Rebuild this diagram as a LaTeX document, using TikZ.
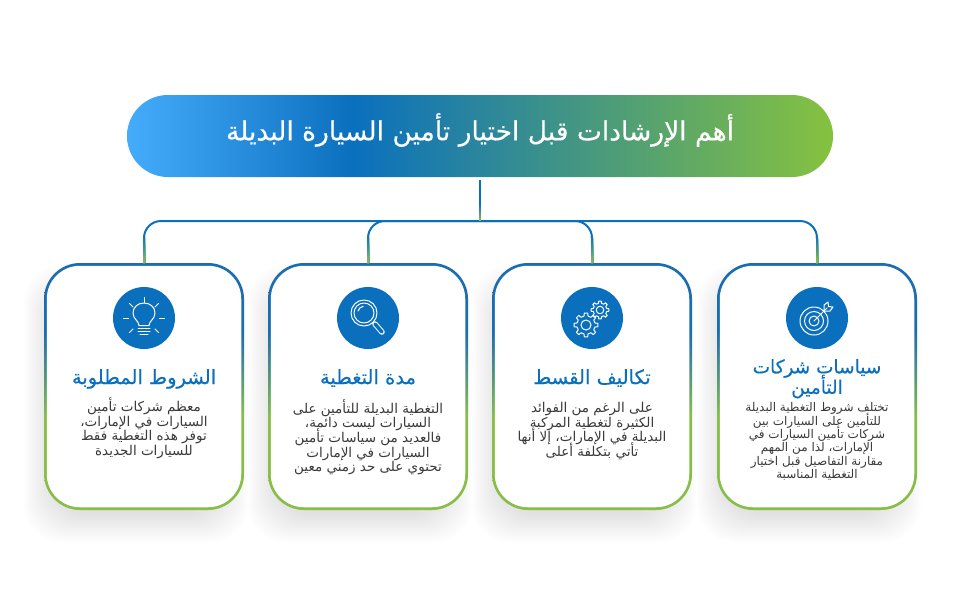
\documentclass[tikz,border=0pt]{standalone}
\usepackage{fontspec}
\newfontfamily\arabicfont[Script=Arabic]{DejaVu Sans}
\newfontfamily\arabichead[Script=Arabic,FakeBold=0.35]{DejaVu Sans}
\TeXXeTstate=1
\normallineskiplimit=-50pt
\lineskiplimit=-50pt
\usetikzlibrary{positioning, calc, backgrounds}

\definecolor{skyblue}{HTML}{45ACFC}
\definecolor{barblue}{HTML}{0A70BE}
\definecolor{bargreen}{HTML}{86C23F}
\definecolor{cardblue}{HTML}{1B6DB3}
\definecolor{cardgreen}{HTML}{86BE48}
\definecolor{bodygrey}{HTML}{3A3A3A}

\pgfdeclarehorizontalshading{titlefill}{100bp}{color(0bp)=(skyblue); color(25bp)=(skyblue); color(41bp)=(barblue); color(75bp)=(bargreen); color(100bp)=(bargreen)}
\pgfdeclareverticalshading{cardfill}{100bp}{color(0bp)=(cardgreen); color(25bp)=(cardgreen); color(44bp)=(cardgreen); color(61bp)=(cardblue); color(75bp)=(cardblue); color(100bp)=(cardblue)}

\newcommand{\arl}[1]{\beginR #1\endR}
\newcommand{\gearicon}[3]{
    \draw[shift={(#1,#2)}] (-13:#3*0.76) \foreach \a in {0,45,...,315} {
        -- (\a-13:#3*0.76) -- (\a-8:#3) -- (\a+8:#3) -- (\a+13:#3*0.76)
    } -- cycle;
    \draw[shift={(#1,#2)}] (0,0) circle (#3*0.42);
}

\tikzset{
    titlebox/.style={shading=titlefill, minimum width=706pt, minimum height=82pt, rounded corners=41pt, inner sep=0pt, outer sep=0pt},
    titletext/.style={text=white, inner sep=0pt, font=\arabichead\fontsize{26.5}{30}\selectfont},
    cardbox/.style={shading=cardfill, minimum width=200pt, minimum height=247pt, rounded corners=36pt, inner sep=0pt, outer sep=0pt},
    cardpanel/.style={fill=white, minimum width=194.5pt, minimum height=241.5pt, rounded corners=33.3pt, inner sep=0pt, outer sep=0pt},
    iconball/.style={circle, fill=barblue, minimum size=62pt, inner sep=0pt, outer sep=0pt},
    cardhead/.style={text=barblue, align=center, inner sep=0pt, font=\arabichead\fontsize{19.5}{19}\selectfont},
    smallhead/.style={text=barblue, align=center, inner sep=0pt, font=\arabichead\fontsize{18.5}{20.5}\selectfont},
    cardbody/.style={text=bodygrey, align=center, inner sep=0pt, font=\arabicfont\fontsize{13.5}{14.7}\selectfont},
    smallbody/.style={text=bodygrey, align=center, inner sep=0pt, font=\arabicfont\fontsize{12}{13.4}\selectfont},
    iconline/.style={draw=white, line width=1pt, line cap=round, line join=round},
    busline/.style={line width=2pt, rounded corners=17pt}
}

\begin{document}
\begin{tikzpicture}[x=1pt, y=1pt, node distance=24pt]
    \useasboundingbox (0,0) rectangle (960,-600);

    \node[titlebox] (Title) at (480,-136) {};
    \node[titletext] (Title Text) at (480,-130) {\arl{أهم الإرشادات قبل اختيار تأمين السيارة البديلة}};

    \node[cardbox] (Card 0) at (144,-386.5) {};
    \node[cardbox, right=24pt of Card 0] (Card 1) {};
    \node[cardbox, right=24pt of Card 1] (Card 2) {};
    \node[cardbox, right=25pt of Card 2] (Card 3) {};
    \coordinate[below=44pt of Title] (Hub);

    \foreach \i in {0,1,2,3} {
        \node[cardpanel] at (Card \i) {};
        \node[iconball, below=24pt of Card \i.north] (Icon \i) {};
    }

    % soft shadow under the cards
    \begin{scope}[on background layer]
        \foreach \i in {0,1,2,3} {
            \foreach \s in {-18,-16,...,18} {
                \fill[black, opacity=0.007, rounded corners=38pt]
                    ($(Card \i.south west)+(-2-\s,-14-\s)$) rectangle ($(Card \i.north east)+(-14+\s,-20+\s)$);
            }
        }
    \end{scope}

    % connectors, painted band by band from blue to green
    \draw[line width=2pt, barblue, shorten <=3pt] (Title.south) -- (Hub);
    \foreach \i in {0,1,2,3} {
        \draw[busline, barblue] (Hub) -| (Card \i.north);
    }
    \foreach \k in {0,1,...,14} {
        \pgfmathtruncatemacro{\mixval}{100-\k*100/14}
        \begin{scope}
            \clip (0,-205-\k*1.1) rectangle (960,-600);
            \draw[line width=2pt, color=barblue!\mixval!bargreen, shorten <=3pt] (Title.south) -- (Hub);
        \end{scope}
        \begin{scope}
            \clip (0,-236-\k*1.9) rectangle (960,-600);
            \foreach \i in {0,1,2,3} {
                \draw[busline, color=barblue!\mixval!bargreen] (Hub) -| (Card \i.north);
            }
        \end{scope}
    }

    \node[cardhead, below=20pt of Icon 0] (Head 0) {\arl{الشروط المطلوبة}};
    \node[cardhead, below=20pt of Icon 1] (Head 1) {\arl{مدة التغطية}};
    \node[cardhead, below=20pt of Icon 2] (Head 2) {\arl{تكاليف القسط}};
    \node[smallhead, below=10pt of Icon 3] (Head 3) {\arl{سياسات شركات}\\\arl{التأمين}};

    \node[cardbody, below=8.5pt of Head 0] (Text 0) {\arl{معظم شركات تأمين}\\\arl{السيارات في الإمارات،}\\\arl{توفر هذه التغطية فقط}\\\arl{للسيارات الجديدة}};
    \node[cardbody, below=12pt of Head 1] (Text 1) {\arl{التغطية البديلة للتأمين على}\\\arl{السيارات ليست دائمة،}\\\arl{فالعديد من سياسات تأمين}\\\arl{السيارات في الإمارات}\\\arl{تحتوي على حد زمني معين}};
    \node[cardbody, below=15pt of Head 2] (Text 2) {\arl{على الرغم من الفوائد}\\\arl{الكثيرة لتغطية المركبة}\\\arl{البديلة في الإمارات، إلا أنها}\\\arl{تأتي بتكلفة أعلى}};
    \node[smallbody, below=4pt of Head 3] (Text 3) {\arl{تختلف شروط التغطية البديلة}\\\arl{للتأمين على السيارات بين}\\\arl{شركات تأمين السيارات في}\\\arl{الإمارات، لذا من المهم}\\\arl{مقارنة التفاصيل قبل اختيار}\\\arl{التغطية المناسبة}};

    % lamp
    \begin{scope}[shift={(Icon 0.center)}, iconline]
        \foreach \a in {0,45,90,135,180,225,315} {
            \draw (\a:15.5) -- (\a:20.5);
        }
        \draw (-5,-7.5) .. controls (-5,-3) and (-11,-1) .. (-11,5) .. controls (-11,11) and (-6,15) .. (0,15) .. controls (6,15) and (11,11) .. (11,5) .. controls (11,-1) and (5,-3) .. (5,-7.5) -- cycle;
        \draw (-6,-10.5) -- (6,-10.5);
        \draw (-6,-13.5) -- (6,-13.5);
        \draw (-4,-16.5) -- (4,-16.5);
    \end{scope}

    % lens
    \begin{scope}[shift={(Icon 1.center)}, iconline]
        \draw (-4,5) circle (13);
        \draw (-4,5) circle (10);
        \draw (-10,7) arc (165:100:6.5);
        \draw[line width=5.5pt] (7,-6) -- (14,-14);
        \draw[barblue, line width=3.5pt] (7,-6) -- (14,-14);
    \end{scope}

    % gears
    \begin{scope}[shift={(Icon 2.center)}, iconline]
        \gearicon{-6}{-7}{12}
        \gearicon{8}{8}{9}
    \end{scope}

    % target
    \begin{scope}[shift={(Icon 3.center)}, iconline]
        \draw (-3,-3) circle (14);
        \draw (-3,-3) circle (9.5);
        \draw (-3,-3) circle (5);
        \draw (-3,-3) -- (10,10);
        \draw (7,7) -- (7,13) -- (11,16) -- (11.5,11.5) -- (16,11) -- (13,7) -- (7,7);
    \end{scope}
\end{tikzpicture}
\end{document}
